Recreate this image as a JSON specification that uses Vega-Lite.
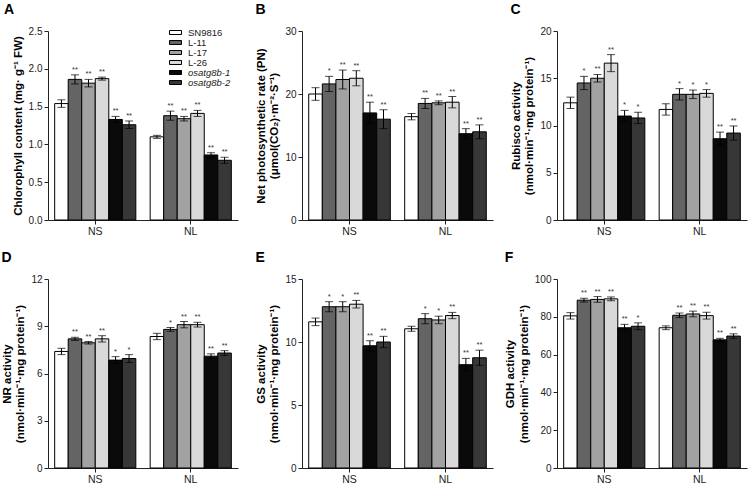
{
  "$schema": "https://vega.github.io/schema/vega-lite/v6.json",
  "padding": {"left": 1, "top": 3, "right": 2, "bottom": 1},
  "background": "white",
  "config": {
    "view": {"stroke": null},
    "font": "Liberation Sans",
    "axis": {"grid": false, "domainColor": "#222", "tickColor": "#222", "labelColor": "#222", "labelFont": "Liberation Sans", "labelFontSize": 10, "titleFont": "Liberation Sans", "titleFontSize": 11.5, "titleFontWeight": "bold", "titleColor": "#000", "tickSize": 4, "titlePadding": 5, "labelOverlap": false, "labelPadding": 2},
    "title": {"font": "Liberation Sans", "fontSize": 14, "fontWeight": "bold", "color": "#000", "anchor": "start", "frame": "bounds", "offset": 9}
  },
  "datasets": {
    "A": [
      {"c":"NS","g":"SN9816","v":1.54,"lo":1.49,"hi":1.59,"s":""},
      {"c":"NS","g":"L-11","v":1.86,"lo":1.80,"hi":1.92,"s":"**"},
      {"c":"NS","g":"L-17","v":1.81,"lo":1.76,"hi":1.86,"s":"**"},
      {"c":"NS","g":"L-26","v":1.87,"lo":1.85,"hi":1.89,"s":"**"},
      {"c":"NS","g":"osatg8b-1","v":1.33,"lo":1.29,"hi":1.37,"s":"**"},
      {"c":"NS","g":"osatg8b-2","v":1.26,"lo":1.21,"hi":1.31,"s":"**"},
      {"c":"NL","g":"SN9816","v":1.10,"lo":1.08,"hi":1.12,"s":""},
      {"c":"NL","g":"L-11","v":1.38,"lo":1.32,"hi":1.44,"s":"**"},
      {"c":"NL","g":"L-17","v":1.34,"lo":1.31,"hi":1.37,"s":"**"},
      {"c":"NL","g":"L-26","v":1.41,"lo":1.37,"hi":1.45,"s":"**"},
      {"c":"NL","g":"osatg8b-1","v":0.86,"lo":0.83,"hi":0.89,"s":"**"},
      {"c":"NL","g":"osatg8b-2","v":0.79,"lo":0.75,"hi":0.83,"s":"**"}
    ],
    "B": [
      {"c":"NS","g":"SN9816","v":20.0,"lo":19.0,"hi":21.0,"s":""},
      {"c":"NS","g":"L-11","v":21.6,"lo":20.4,"hi":22.8,"s":"*"},
      {"c":"NS","g":"L-17","v":22.3,"lo":20.8,"hi":23.8,"s":"**"},
      {"c":"NS","g":"L-26","v":22.5,"lo":21.3,"hi":23.7,"s":"**"},
      {"c":"NS","g":"osatg8b-1","v":17.0,"lo":15.3,"hi":18.7,"s":"**"},
      {"c":"NS","g":"osatg8b-2","v":16.0,"lo":14.5,"hi":17.5,"s":"**"},
      {"c":"NL","g":"SN9816","v":16.4,"lo":15.9,"hi":16.9,"s":""},
      {"c":"NL","g":"L-11","v":18.5,"lo":17.7,"hi":19.3,"s":"**"},
      {"c":"NL","g":"L-17","v":18.6,"lo":18.3,"hi":18.9,"s":"**"},
      {"c":"NL","g":"L-26","v":18.7,"lo":17.8,"hi":19.6,"s":"**"},
      {"c":"NL","g":"osatg8b-1","v":13.7,"lo":12.9,"hi":14.5,"s":"**"},
      {"c":"NL","g":"osatg8b-2","v":14.0,"lo":12.9,"hi":15.1,"s":"**"}
    ],
    "C": [
      {"c":"NS","g":"SN9816","v":12.4,"lo":11.8,"hi":13.0,"s":""},
      {"c":"NS","g":"L-11","v":14.5,"lo":13.8,"hi":15.2,"s":"*"},
      {"c":"NS","g":"L-17","v":15.0,"lo":14.6,"hi":15.4,"s":"**"},
      {"c":"NS","g":"L-26","v":16.6,"lo":15.7,"hi":17.5,"s":"**"},
      {"c":"NS","g":"osatg8b-1","v":11.0,"lo":10.4,"hi":11.6,"s":"*"},
      {"c":"NS","g":"osatg8b-2","v":10.8,"lo":10.2,"hi":11.4,"s":"*"},
      {"c":"NL","g":"SN9816","v":11.7,"lo":11.1,"hi":12.3,"s":""},
      {"c":"NL","g":"L-11","v":13.3,"lo":12.7,"hi":13.9,"s":"*"},
      {"c":"NL","g":"L-17","v":13.3,"lo":12.85,"hi":13.75,"s":"*"},
      {"c":"NL","g":"L-26","v":13.4,"lo":13.0,"hi":13.8,"s":"*"},
      {"c":"NL","g":"osatg8b-1","v":8.6,"lo":7.9,"hi":9.3,"s":"**"},
      {"c":"NL","g":"osatg8b-2","v":9.2,"lo":8.45,"hi":9.95,"s":"**"}
    ],
    "D": [
      {"c":"NS","g":"SN9816","v":7.4,"lo":7.2,"hi":7.6,"s":""},
      {"c":"NS","g":"L-11","v":8.2,"lo":8.1,"hi":8.3,"s":"**"},
      {"c":"NS","g":"L-17","v":7.95,"lo":7.87,"hi":8.03,"s":"**"},
      {"c":"NS","g":"L-26","v":8.2,"lo":8.0,"hi":8.4,"s":"**"},
      {"c":"NS","g":"osatg8b-1","v":6.85,"lo":6.63,"hi":7.07,"s":"*"},
      {"c":"NS","g":"osatg8b-2","v":6.95,"lo":6.7,"hi":7.2,"s":"*"},
      {"c":"NL","g":"SN9816","v":8.35,"lo":8.15,"hi":8.55,"s":""},
      {"c":"NL","g":"L-11","v":8.8,"lo":8.68,"hi":8.92,"s":"*"},
      {"c":"NL","g":"L-17","v":9.1,"lo":8.9,"hi":9.3,"s":"**"},
      {"c":"NL","g":"L-26","v":9.1,"lo":8.95,"hi":9.25,"s":"**"},
      {"c":"NL","g":"osatg8b-1","v":7.1,"lo":6.95,"hi":7.25,"s":"**"},
      {"c":"NL","g":"osatg8b-2","v":7.3,"lo":7.15,"hi":7.45,"s":"**"}
    ],
    "E": [
      {"c":"NS","g":"SN9816","v":11.6,"lo":11.3,"hi":11.9,"s":""},
      {"c":"NS","g":"L-11","v":12.8,"lo":12.4,"hi":13.2,"s":"*"},
      {"c":"NS","g":"L-17","v":12.8,"lo":12.4,"hi":13.2,"s":"*"},
      {"c":"NS","g":"L-26","v":13.0,"lo":12.7,"hi":13.3,"s":"**"},
      {"c":"NS","g":"osatg8b-1","v":9.7,"lo":9.3,"hi":10.1,"s":"**"},
      {"c":"NS","g":"osatg8b-2","v":10.0,"lo":9.55,"hi":10.45,"s":"**"},
      {"c":"NL","g":"SN9816","v":11.05,"lo":10.85,"hi":11.25,"s":""},
      {"c":"NL","g":"L-11","v":11.85,"lo":11.45,"hi":12.25,"s":"*"},
      {"c":"NL","g":"L-17","v":11.75,"lo":11.45,"hi":12.05,"s":"*"},
      {"c":"NL","g":"L-26","v":12.1,"lo":11.85,"hi":12.35,"s":"**"},
      {"c":"NL","g":"osatg8b-1","v":8.2,"lo":7.7,"hi":8.7,"s":"**"},
      {"c":"NL","g":"osatg8b-2","v":8.75,"lo":8.15,"hi":9.35,"s":"**"}
    ],
    "F": [
      {"c":"NS","g":"SN9816","v":80.5,"lo":78.8,"hi":82.2,"s":""},
      {"c":"NS","g":"L-11","v":88.8,"lo":87.8,"hi":89.8,"s":"**"},
      {"c":"NS","g":"L-17","v":89.2,"lo":87.7,"hi":90.7,"s":"**"},
      {"c":"NS","g":"L-26","v":89.5,"lo":88.5,"hi":90.5,"s":"**"},
      {"c":"NS","g":"osatg8b-1","v":74.2,"lo":72.4,"hi":76.0,"s":"**"},
      {"c":"NS","g":"osatg8b-2","v":75.0,"lo":73.2,"hi":76.8,"s":"*"},
      {"c":"NL","g":"SN9816","v":74.2,"lo":73.2,"hi":75.2,"s":""},
      {"c":"NL","g":"L-11","v":80.8,"lo":79.6,"hi":82.0,"s":"**"},
      {"c":"NL","g":"L-17","v":81.5,"lo":80.0,"hi":83.0,"s":"**"},
      {"c":"NL","g":"L-26","v":80.6,"lo":78.8,"hi":82.4,"s":"**"},
      {"c":"NL","g":"osatg8b-1","v":67.8,"lo":67.0,"hi":68.6,"s":"**"},
      {"c":"NL","g":"osatg8b-2","v":69.8,"lo":68.6,"hi":71.0,"s":"**"}
    ]
  },
  "columns": 3,
  "bounds": "flush",
  "spacing": {"row": 59, "column": 64},
  "resolve": {"scale": {"fill": "independent", "xOffset": "independent"}, "legend": {"fill": "independent"}},
  "concat": [
    {
      "title": {"text": "A", "dx": -8},
      "width": 190, "height": 189,
      "data": {"name": "A"},
      "encoding": {
        "x": {"field": "c", "type": "nominal", "sort": ["NS","NL"], "scale": {"paddingInner": 0.15, "paddingOuter": 0.07}, "axis": {"title": null, "labelAngle": 0, "labelFontSize": 10.5}},
        "xOffset": {"field": "g", "type": "nominal", "sort": ["SN9816","L-11","L-17","L-26","osatg8b-1","osatg8b-2"], "scale": {"paddingInner": 0, "paddingOuter": 0}}
      },
      "layer": [
        {"mark": {"type": "bar", "stroke": "#000", "strokeWidth": 1},
         "encoding": {
           "y": {"field": "v", "type": "quantitative", "scale": {"domain": [0, 2.5], "nice": false}, "axis": {"values": [0,0.5,1,1.5,2,2.5], "tickCount": 12, "format": ".1f", "title": "Chlorophyll content (mg· g⁻¹ FW)"}},
           "fill": {"field": "g", "type": "nominal", "scale": {"domain": ["SN9816","L-11","L-17","L-26","osatg8b-1","osatg8b-2"], "range": ["#ffffff","#646464","#a2a2a2","#d9d9d9","#0a0a0a","#373737"]},
             "legend": {"title": null, "orient": "none", "legendX": 122, "legendY": -4, "symbolType": "M-1.2,-0.4H1.2V0.4H-1.2Z", "symbolSize": 100, "symbolStrokeColor": "#000", "symbolStrokeWidth": 1, "symbolOpacity": 1, "labelFont": "Liberation Sans", "labelFontSize": 9.5, "labelColor": "#222", "labelOffset": 7, "rowPadding": 0,
               "encode": {"labels": {"update": {"fontStyle": {"signal": "indexof(datum.label, 'osatg') >= 0 ? 'italic' : 'normal'"}}}}}}
         }},
        {"mark": {"type": "rule", "color": "#000", "strokeWidth": 1}, "encoding": {"y": {"field": "lo", "type": "quantitative"}, "y2": {"field": "hi"}}},
        {"mark": {"type": "tick", "color": "#000", "size": 8, "thickness": 1}, "encoding": {"y": {"field": "lo", "type": "quantitative"}}},
        {"mark": {"type": "tick", "color": "#000", "size": 8, "thickness": 1}, "encoding": {"y": {"field": "hi", "type": "quantitative"}}},
        {"mark": {"type": "text", "baseline": "bottom", "dy": -1, "fontSize": 7.5, "color": "#333"}, "encoding": {"y": {"field": "hi", "type": "quantitative"}, "text": {"field": "s"}}}
      ]
    },
    {
      "title": {"text": "B"},
      "width": 191, "height": 189,
      "data": {"name": "B"},
      "encoding": {
        "x": {"field": "c", "type": "nominal", "sort": ["NS","NL"], "scale": {"paddingInner": 0.15, "paddingOuter": 0.07}, "axis": {"title": null, "labelAngle": 0, "labelFontSize": 10.5}},
        "xOffset": {"field": "g", "type": "nominal", "sort": ["SN9816","L-11","L-17","L-26","osatg8b-1","osatg8b-2"], "scale": {"paddingInner": 0, "paddingOuter": 0}}
      },
      "layer": [
        {"mark": {"type": "bar", "stroke": "#000", "strokeWidth": 1},
         "encoding": {
           "y": {"field": "v", "type": "quantitative", "scale": {"domain": [0, 30], "nice": false}, "axis": {"values": [0,10,20,30], "tickCount": 12, "title": ["Net photosynthetic rate (PN)", "(μmol(CO₂)·m⁻²·S⁻¹)"]}},
           "fill": {"field": "g", "type": "nominal", "scale": {"domain": ["SN9816","L-11","L-17","L-26","osatg8b-1","osatg8b-2"], "range": ["#ffffff","#646464","#a2a2a2","#d9d9d9","#0a0a0a","#373737"]}, "legend": null}
         }},
        {"mark": {"type": "rule", "color": "#000", "strokeWidth": 1}, "encoding": {"y": {"field": "lo", "type": "quantitative"}, "y2": {"field": "hi"}}},
        {"mark": {"type": "tick", "color": "#000", "size": 8, "thickness": 1}, "encoding": {"y": {"field": "lo", "type": "quantitative"}}},
        {"mark": {"type": "tick", "color": "#000", "size": 8, "thickness": 1}, "encoding": {"y": {"field": "hi", "type": "quantitative"}}},
        {"mark": {"type": "text", "baseline": "bottom", "dy": -1, "fontSize": 7.5, "color": "#333"}, "encoding": {"y": {"field": "hi", "type": "quantitative"}, "text": {"field": "s"}}}
      ]
    },
    {
      "title": {"text": "C"},
      "width": 190, "height": 189,
      "data": {"name": "C"},
      "encoding": {
        "x": {"field": "c", "type": "nominal", "sort": ["NS","NL"], "scale": {"paddingInner": 0.15, "paddingOuter": 0.07}, "axis": {"title": null, "labelAngle": 0, "labelFontSize": 10.5}},
        "xOffset": {"field": "g", "type": "nominal", "sort": ["SN9816","L-11","L-17","L-26","osatg8b-1","osatg8b-2"], "scale": {"paddingInner": 0, "paddingOuter": 0}}
      },
      "layer": [
        {"mark": {"type": "bar", "stroke": "#000", "strokeWidth": 1},
         "encoding": {
           "y": {"field": "v", "type": "quantitative", "scale": {"domain": [0, 20], "nice": false}, "axis": {"values": [0,5,10,15,20], "tickCount": 12, "title": ["Rubisco activity", "(nmol·min⁻¹·mg protein⁻¹)"]}},
           "fill": {"field": "g", "type": "nominal", "scale": {"domain": ["SN9816","L-11","L-17","L-26","osatg8b-1","osatg8b-2"], "range": ["#ffffff","#646464","#a2a2a2","#d9d9d9","#0a0a0a","#373737"]}, "legend": null}
         }},
        {"mark": {"type": "rule", "color": "#000", "strokeWidth": 1}, "encoding": {"y": {"field": "lo", "type": "quantitative"}, "y2": {"field": "hi"}}},
        {"mark": {"type": "tick", "color": "#000", "size": 8, "thickness": 1}, "encoding": {"y": {"field": "lo", "type": "quantitative"}}},
        {"mark": {"type": "tick", "color": "#000", "size": 8, "thickness": 1}, "encoding": {"y": {"field": "hi", "type": "quantitative"}}},
        {"mark": {"type": "text", "baseline": "bottom", "dy": -1, "fontSize": 7.5, "color": "#333"}, "encoding": {"y": {"field": "hi", "type": "quantitative"}, "text": {"field": "s"}}}
      ]
    },
    {
      "title": {"text": "D"},
      "width": 190, "height": 189,
      "data": {"name": "D"},
      "encoding": {
        "x": {"field": "c", "type": "nominal", "sort": ["NS","NL"], "scale": {"paddingInner": 0.15, "paddingOuter": 0.07}, "axis": {"title": null, "labelAngle": 0, "labelFontSize": 10.5}},
        "xOffset": {"field": "g", "type": "nominal", "sort": ["SN9816","L-11","L-17","L-26","osatg8b-1","osatg8b-2"], "scale": {"paddingInner": 0, "paddingOuter": 0}}
      },
      "layer": [
        {"mark": {"type": "bar", "stroke": "#000", "strokeWidth": 1},
         "encoding": {
           "y": {"field": "v", "type": "quantitative", "scale": {"domain": [0, 12], "nice": false}, "axis": {"values": [0,3,6,9,12], "tickCount": 12, "title": ["NR activity", "(nmol·min⁻¹·mg protein⁻¹)"]}},
           "fill": {"field": "g", "type": "nominal", "scale": {"domain": ["SN9816","L-11","L-17","L-26","osatg8b-1","osatg8b-2"], "range": ["#ffffff","#646464","#a2a2a2","#d9d9d9","#0a0a0a","#373737"]}, "legend": null}
         }},
        {"mark": {"type": "rule", "color": "#000", "strokeWidth": 1}, "encoding": {"y": {"field": "lo", "type": "quantitative"}, "y2": {"field": "hi"}}},
        {"mark": {"type": "tick", "color": "#000", "size": 8, "thickness": 1}, "encoding": {"y": {"field": "lo", "type": "quantitative"}}},
        {"mark": {"type": "tick", "color": "#000", "size": 8, "thickness": 1}, "encoding": {"y": {"field": "hi", "type": "quantitative"}}},
        {"mark": {"type": "text", "baseline": "bottom", "dy": -1, "fontSize": 7.5, "color": "#333"}, "encoding": {"y": {"field": "hi", "type": "quantitative"}, "text": {"field": "s"}}}
      ]
    },
    {
      "title": {"text": "E"},
      "width": 191, "height": 189,
      "data": {"name": "E"},
      "encoding": {
        "x": {"field": "c", "type": "nominal", "sort": ["NS","NL"], "scale": {"paddingInner": 0.15, "paddingOuter": 0.07}, "axis": {"title": null, "labelAngle": 0, "labelFontSize": 10.5}},
        "xOffset": {"field": "g", "type": "nominal", "sort": ["SN9816","L-11","L-17","L-26","osatg8b-1","osatg8b-2"], "scale": {"paddingInner": 0, "paddingOuter": 0}}
      },
      "layer": [
        {"mark": {"type": "bar", "stroke": "#000", "strokeWidth": 1},
         "encoding": {
           "y": {"field": "v", "type": "quantitative", "scale": {"domain": [0, 15], "nice": false}, "axis": {"values": [0,5,10,15], "tickCount": 12, "title": ["GS activity", "(nmol·min⁻¹·mg protein⁻¹)"]}},
           "fill": {"field": "g", "type": "nominal", "scale": {"domain": ["SN9816","L-11","L-17","L-26","osatg8b-1","osatg8b-2"], "range": ["#ffffff","#646464","#a2a2a2","#d9d9d9","#0a0a0a","#373737"]}, "legend": null}
         }},
        {"mark": {"type": "rule", "color": "#000", "strokeWidth": 1}, "encoding": {"y": {"field": "lo", "type": "quantitative"}, "y2": {"field": "hi"}}},
        {"mark": {"type": "tick", "color": "#000", "size": 8, "thickness": 1}, "encoding": {"y": {"field": "lo", "type": "quantitative"}}},
        {"mark": {"type": "tick", "color": "#000", "size": 8, "thickness": 1}, "encoding": {"y": {"field": "hi", "type": "quantitative"}}},
        {"mark": {"type": "text", "baseline": "bottom", "dy": -1, "fontSize": 7.5, "color": "#333"}, "encoding": {"y": {"field": "hi", "type": "quantitative"}, "text": {"field": "s"}}}
      ]
    },
    {
      "title": {"text": "F"},
      "width": 190, "height": 189,
      "data": {"name": "F"},
      "encoding": {
        "x": {"field": "c", "type": "nominal", "sort": ["NS","NL"], "scale": {"paddingInner": 0.15, "paddingOuter": 0.07}, "axis": {"title": null, "labelAngle": 0, "labelFontSize": 10.5}},
        "xOffset": {"field": "g", "type": "nominal", "sort": ["SN9816","L-11","L-17","L-26","osatg8b-1","osatg8b-2"], "scale": {"paddingInner": 0, "paddingOuter": 0}}
      },
      "layer": [
        {"mark": {"type": "bar", "stroke": "#000", "strokeWidth": 1},
         "encoding": {
           "y": {"field": "v", "type": "quantitative", "scale": {"domain": [0, 100], "nice": false}, "axis": {"values": [0,20,40,60,80,100], "tickCount": 12, "title": ["GDH activity", "(nmol·min⁻¹·mg protein⁻¹)"]}},
           "fill": {"field": "g", "type": "nominal", "scale": {"domain": ["SN9816","L-11","L-17","L-26","osatg8b-1","osatg8b-2"], "range": ["#ffffff","#646464","#a2a2a2","#d9d9d9","#0a0a0a","#373737"]}, "legend": null}
         }},
        {"mark": {"type": "rule", "color": "#000", "strokeWidth": 1}, "encoding": {"y": {"field": "lo", "type": "quantitative"}, "y2": {"field": "hi"}}},
        {"mark": {"type": "tick", "color": "#000", "size": 8, "thickness": 1}, "encoding": {"y": {"field": "lo", "type": "quantitative"}}},
        {"mark": {"type": "tick", "color": "#000", "size": 8, "thickness": 1}, "encoding": {"y": {"field": "hi", "type": "quantitative"}}},
        {"mark": {"type": "text", "baseline": "bottom", "dy": -1, "fontSize": 7.5, "color": "#333"}, "encoding": {"y": {"field": "hi", "type": "quantitative"}, "text": {"field": "s"}}}
      ]
    }
  ]
}
